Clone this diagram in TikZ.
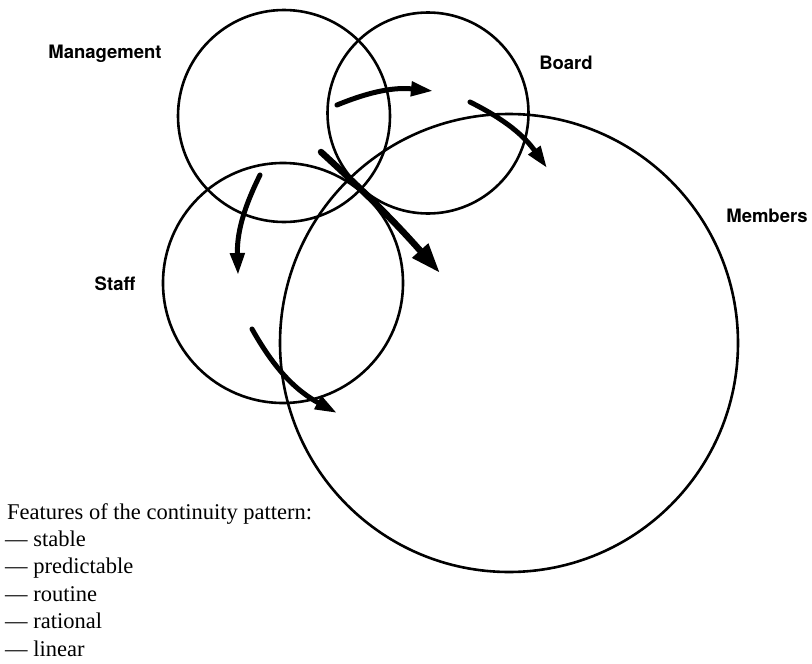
\documentclass[tikz,border=0pt]{standalone}
\usepackage{fontspec}
\setmainfont{Liberation Serif}
\setsansfont{TeX Gyre Heros}
\usetikzlibrary{arrows.meta,calc,positioning}

\begin{document}
\begin{tikzpicture}[
	x=1pt, y=-1pt,
	ring/.style={circle, draw, line width=2.6pt, inner sep=0pt},
	grouplabel/.style={font=\sffamily\bfseries\fontsize{18.5}{20}\selectfont, inner sep=0pt},
	listline/.style={font=\fontsize{22.5}{28}\selectfont, inner sep=0pt, anchor=base west},
	flow/.style={line width=5pt, line cap=round, -{Triangle[length=22pt,width=14pt]}},
	bigflow/.style={line width=6.5pt, line cap=round, -{Triangle[length=30pt,width=20pt]}}
	]
	\useasboundingbox (0,0) rectangle (812,664);

	% The circles
	\node[ring, minimum size=212pt] (M) at (284,116) {};
	\node[ring, minimum size=201pt] (B) at (428,113) {};
	\node[ring, minimum size=240pt] (S) at (283,283) {};
	\node[ring, minimum size=458pt] (Mb) at (509,343) {};

	% The names
	\node[grouplabel] (Mlab) at (105,54) {Management};
	\node[grouplabel] (Blab) at (566,63) {Board};
	\node[grouplabel] (Mblab) at (767,216) {Members};
	\node[grouplabel] (Slab) at (115,284) {Staff};

	% End points of the flows
	\coordinate (m1) at (337,105);
	\coordinate (b1) at (433,91);
	\coordinate (b2) at (470,102);
	\coordinate (mb1) at (547,168);
	\coordinate (m2) at (260,175);
	\coordinate (s1) at (238,275);
	\coordinate (m3) at (321,152);
	\coordinate (mb2) at (440,273);
	\coordinate (s2) at (252,329);
	\coordinate (mb3) at (337,413);

	% The flows
	\draw[flow] (m1) to[bend left=14] (b1);
	\draw[flow] (b2) to[bend left=14] (mb1);
	\draw[flow] (m2) to[bend right=14] (s1);
	\draw[bigflow] (m3) to[bend left=3] (mb2);
	\draw[flow] (s2) to[bend right=16] (mb3);

	% The list
	\node[listline] (title) at (7,519) {Features of the continuity pattern:};
	\foreach \w [count=\i] in {stable,predictable,routine,rational,linear}
		\node[listline] (item\i) at (5,519+27.4*\i) {\textemdash\ \w};
\end{tikzpicture}
\end{document}
